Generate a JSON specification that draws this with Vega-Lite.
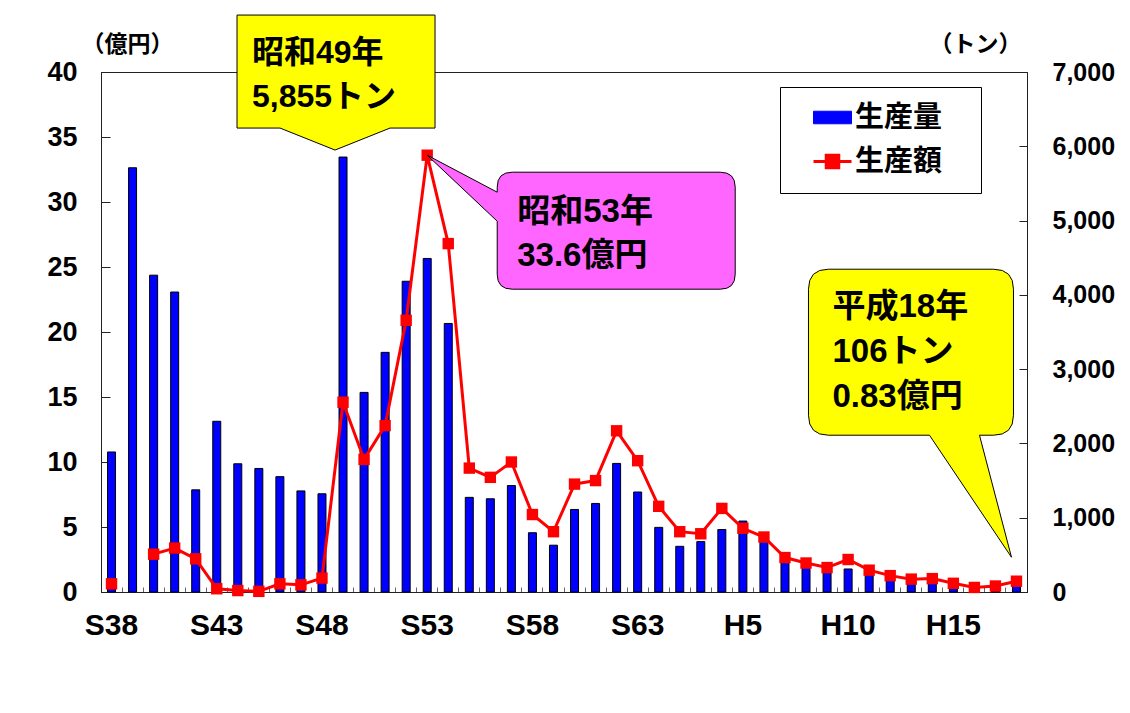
{
  "$schema": "https://vega.github.io/schema/vega-lite/v6.json",
  "width": 926,
  "height": 520,
  "autosize": "none",
  "padding": {"left": 101, "top": 72, "right": 103, "bottom": 121},
  "background": "white",
  "datasets": {
    "main": [
      {"年": "S38", "tons": 1885, "oku": 0.63},
      {"年": "S39", "tons": 5711, "oku": null},
      {"年": "S40", "tons": 4265, "oku": 2.91},
      {"年": "S41", "tons": 4038, "oku": 3.38},
      {"年": "S42", "tons": 1375, "oku": 2.55},
      {"年": "S43", "tons": 2298, "oku": 0.25},
      {"年": "S44", "tons": 1726, "oku": 0.11},
      {"年": "S45", "tons": 1663, "oku": 0.05},
      {"年": "S46", "tons": 1553, "oku": 0.63},
      {"年": "S47", "tons": 1361, "oku": 0.55},
      {"年": "S48", "tons": 1322, "oku": 1.07},
      {"年": "S49", "tons": 5855, "oku": 14.6},
      {"年": "S50", "tons": 2687, "oku": 10.2},
      {"年": "S51", "tons": 3226, "oku": 12.8},
      {"年": "S52", "tons": 4183, "oku": 20.9},
      {"年": "S53", "tons": 4490, "oku": 33.6},
      {"年": "S54", "tons": 3615, "oku": 26.8},
      {"年": "S55", "tons": 1274, "oku": 9.53},
      {"年": "S56", "tons": 1255, "oku": 8.82},
      {"年": "S57", "tons": 1433, "oku": 10.0},
      {"年": "S58", "tons": 798, "oku": 5.96},
      {"年": "S59", "tons": 630, "oku": 4.64},
      {"年": "S60", "tons": 1111, "oku": 8.3},
      {"年": "S61", "tons": 1192, "oku": 8.57},
      {"年": "S62", "tons": 1731, "oku": 12.4},
      {"年": "S63", "tons": 1346, "oku": 10.1},
      {"年": "H1", "tons": 870, "oku": 6.59},
      {"年": "H2", "tons": 615, "oku": 4.64},
      {"年": "H3", "tons": 678, "oku": 4.48},
      {"年": "H4", "tons": 841, "oku": 6.43},
      {"年": "H5", "tons": 955, "oku": 4.9},
      {"年": "H6", "tons": 690, "oku": 4.23},
      {"年": "H7", "tons": 405, "oku": 2.65},
      {"年": "H8", "tons": 331, "oku": 2.23},
      {"年": "H9", "tons": 266, "oku": 1.88},
      {"年": "H10", "tons": 310, "oku": 2.5},
      {"年": "H11", "tons": 231, "oku": 1.68},
      {"年": "H12", "tons": 180, "oku": 1.26},
      {"年": "H13", "tons": 139, "oku": 0.99},
      {"年": "H14", "tons": 139, "oku": 1.03},
      {"年": "H15", "tons": 75, "oku": 0.67},
      {"年": "H16", "tons": 47, "oku": 0.35},
      {"年": "H17", "tons": 62, "oku": 0.46},
      {"年": "H18", "tons": 106, "oku": 0.83}
    ],
    "ann1": [{"年": "S49", "tons": 5855, "label": "昭和49年\n5,855トン"}],
    "ann2": [{"年": "S53", "oku": 33.6, "label": "昭和53年\n33.6億円"}],
    "ann3": [{"年": "H18", "oku": 0.83, "label": "平成18年\n106トン\n0.83億円"}]
  },
  "config": {
    "view": {"stroke": "#222222", "strokeWidth": 1},
    "font": "Liberation Sans, Noto Sans CJK JP, sans-serif",
    "axis": {"grid": false, "domainColor": "#222222", "tickColor": "#222222", "labelColor": "#000000", "titleColor": "#000000", "labelFont": "Liberation Sans, Noto Sans CJK JP, sans-serif", "titleFont": "Liberation Sans, Noto Sans CJK JP, sans-serif"}
  },
  "encoding": {
    "x": {
      "field": "年",
      "type": "ordinal",
      "sort": null,
      "scale": {
        "domain": ["S38","S39","S40","S41","S42","S43","S44","S45","S46","S47","S48","S49","S50","S51","S52","S53","S54","S55","S56","S57","S58","S59","S60","S61","S62","S63","H1","H2","H3","H4","H5","H6","H7","H8","H9","H10","H11","H12","H13","H14","H15","H16","H17","H18"],
        "paddingInner": 0,
        "paddingOuter": 0
      },
      "axis": {
        "title": null,
        "labelAngle": 0,
        "bandPosition": 0,
        "labelOffset": 0,
        "tickSize": -5,
        "tickColor": "#666666",
        "labelPadding": 23,
        "labelFontSize": 30,
        "labelFontWeight": "bold",
        "labelOverlap": false,
        "labelFlush": false,
        "labelExpr": "indexof(['S38','S43','S48','S53','S58','S63','H5','H10','H15'], datum.value) >= 0 ? datum.value : ''"
      }
    }
  },
  "layer": [
    {
      "encoding": {
        "y": {
          "field": "tons",
          "type": "quantitative",
          "scale": {"domain": [0, 7000], "nice": false},
          "axis": {
            "orient": "right",
            "values": [0, 1000, 2000, 3000, 4000, 5000, 6000, 7000],
            "format": ",.0f",
            "tickSize": -8,
            "labelPadding": 33,
            "labelFontSize": 25,
            "labelFontWeight": "bold",
            "labelAlign": "left",
            "title": "（トン）",
            "titleAngle": 0,
            "titleX": -52,
            "titleY": -28,
            "titleAlign": "center",
            "titleBaseline": "middle",
            "titleFontSize": 23,
            "titleFontWeight": "bold"
          }
        }
      },
      "layer": [
        {
          "data": {"name": "main"},
          "mark": {"type": "bar", "width": 8, "stroke": "#000000", "strokeWidth": 1},
          "encoding": {
            "color": {
              "datum": "生産量",
              "type": "nominal",
              "scale": {"domain": ["生産量", "生産額"], "range": ["#0000FF", "#FF0000"]},
              "legend": {
                "title": null,
                "orient": "none",
                "legendX": 679,
                "legendY": 15,
                "direction": "vertical",
                "strokeColor": "#000000",
                "fillColor": "#FFFFFF",
                "padding": 16,
                "rowPadding": 14,
                "symbolSize": 1444,
                "symbolOffset": 22,
                "labelOffset": 8,
                "labelFontSize": 29,
                "labelFontWeight": "bold",
                "labelFont": "Noto Sans CJK JP, DejaVu Sans",
                "labelColor": "#000000",
                "labelExpr": "datum.label + '\u2800'",
                "symbolType": {"expr": "datum.value === '生産量' ? 'M-1,-0.33H1V0.33H-1Z' : 'M-1,0H1M-0.33,-0.33H0.33V0.33H-0.33Z'"},
                "symbolFillColor": {"expr": "datum.value === '生産量' ? '#0000FF' : '#FF0000'"},
                "symbolStrokeColor": {"expr": "datum.value === '生産量' ? '#000000' : '#FF0000'"},
                "symbolStrokeWidth": {"expr": "datum.value === '生産量' ? 1 : 3"},
                "symbolOpacity": 1
              }
            }
          }
        },
        {
          "data": {"name": "ann1"},
          "mark": {"type": "point", "shape": "M-106,-142H92V-29H47L-8,-7L-63,-29H-106Z", "size": 4, "filled": true, "fill": "#FFFF00", "stroke": "#000000", "strokeWidth": 1, "opacity": 1}
        },
        {
          "data": {"name": "ann1"},
          "mark": {"type": "text", "align": "left", "baseline": "middle", "dx": -91, "dy": -104, "fontSize": 32, "fontWeight": "bold", "lineBreak": "\n", "lineHeight": 44, "color": "#000000"},
          "encoding": {"text": {"field": "label"}}
        }
      ]
    },
    {
      "encoding": {
        "y": {
          "field": "oku",
          "type": "quantitative",
          "scale": {"domain": [0, 40], "nice": false},
          "axis": {
            "orient": "left",
            "values": [0, 5, 10, 15, 20, 25, 30, 35, 40],
            "tickSize": -9,
            "labelPadding": 33,
            "labelFontSize": 27,
            "labelFontWeight": "bold",
            "title": "（億円）",
            "titleAngle": 0,
            "titleX": 26,
            "titleY": -28,
            "titleAlign": "center",
            "titleBaseline": "middle",
            "titleFontSize": 23,
            "titleFontWeight": "bold"
          }
        }
      },
      "layer": [
        {
          "data": {"name": "main"},
          "mark": {"type": "line", "strokeWidth": 3, "invalid": "break-paths-filter-domains"},
          "encoding": {
            "color": {"datum": "生産額", "type": "nominal", "legend": null}
          }
        },
        {
          "data": {"name": "main"},
          "mark": {"type": "point", "shape": "square", "filled": true, "color": "#FF0000", "size": 130, "opacity": 1}
        },
        {
          "data": {"name": "ann2"},
          "mark": {"type": "point", "shape": "M0,0L70,66V119Q70,134 85,134H293Q308,134 308,119V32Q308,17 293,17H85Q70,17 70,32V37Z", "size": 4, "filled": true, "fill": "#FF66FF", "stroke": "#000000", "strokeWidth": 1, "opacity": 1}
        },
        {
          "data": {"name": "ann3"},
          "mark": {"type": "point", "shape": "M-5,-24L-87,-146H-188Q-208,-146 -208,-166V-292Q-208,-312 -188,-312H-23Q-3,-312 -3,-292V-166Q-3,-146 -23,-146H-37Z", "size": 4, "filled": true, "fill": "#FFFF00", "stroke": "#000000", "strokeWidth": 1, "opacity": 1}
        },
        {
          "data": {"name": "ann2"},
          "mark": {"type": "text", "align": "left", "baseline": "middle", "dx": 90, "dy": 57, "fontSize": 33, "fontWeight": "bold", "lineBreak": "\n", "lineHeight": 44, "color": "#000000"},
          "encoding": {"text": {"field": "label"}}
        },
        {
          "data": {"name": "ann3"},
          "mark": {"type": "text", "align": "left", "baseline": "middle", "dx": -184, "dy": -274, "fontSize": 33, "fontWeight": "bold", "lineBreak": "\n", "lineHeight": 45, "color": "#000000"},
          "encoding": {"text": {"field": "label"}}
        }
      ]
    }
  ],
  "resolve": {"scale": {"y": "independent"}}
}
